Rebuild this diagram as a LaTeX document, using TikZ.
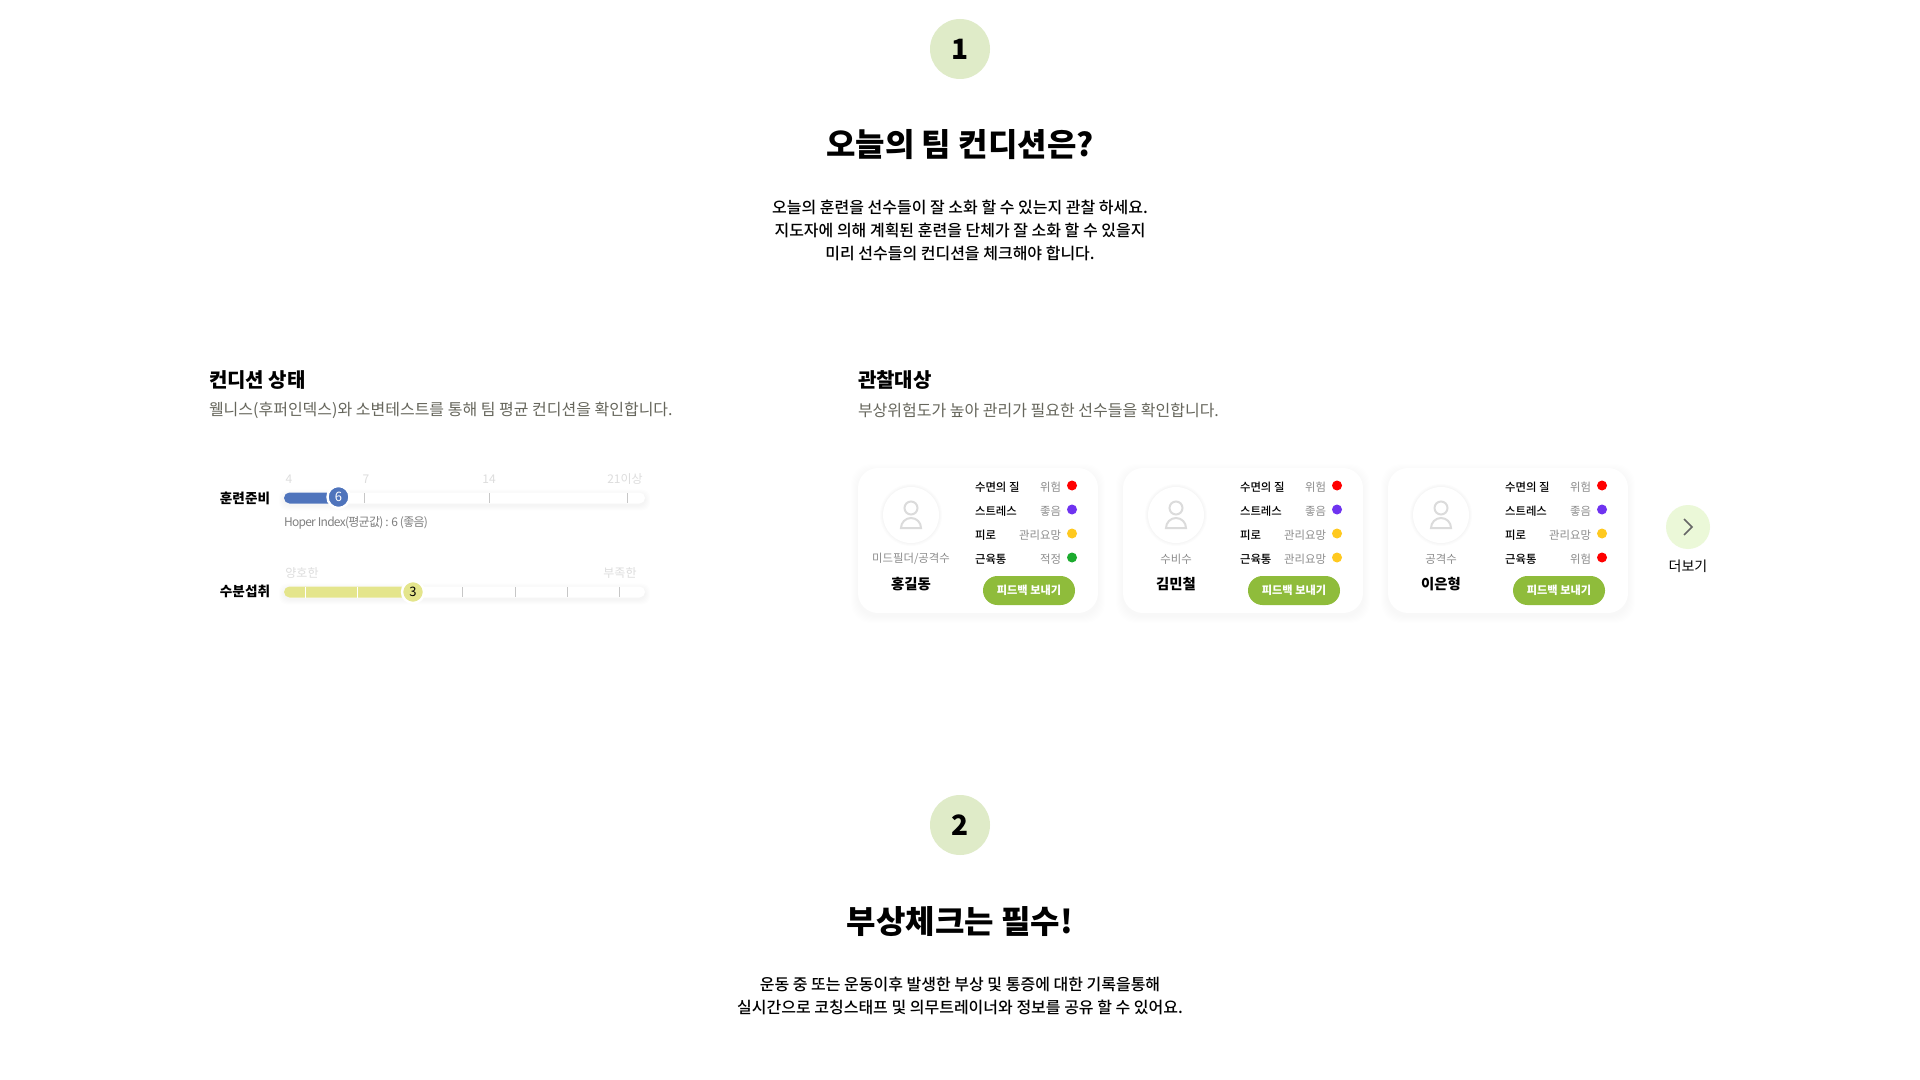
\documentclass[tikz,border=0pt]{standalone}
\usepackage{fontspec}
\setmainfont{Noto Sans CJK KR}
\newfontfamily\medfont{Noto Sans CJK KR Medium}
\usetikzlibrary{calc}
\definecolor{badgegreen}{HTML}{DFEBC8}
\definecolor{subgray}{HTML}{66665C}
\definecolor{scalegray}{HTML}{DDDDDD}
\definecolor{barblue}{HTML}{4F74BC}
\definecolor{baryellow}{HTML}{E4E58C}
\definecolor{btngreen}{HTML}{8FBC3B}
\definecolor{morebg}{HTML}{EBF8D8}
\definecolor{riskred}{HTML}{FF0000}
\definecolor{goodviolet}{HTML}{6F33F0}
\definecolor{careamber}{HTML}{FFC91F}
\definecolor{finegreen}{HTML}{1CAB2E}
\tikzset{
	txt/.style={inner sep=0pt,outer sep=0pt},
	badge/.style={circle,fill=badgegreen,minimum size=30pt,txt,font=\fontsize{14}{14}\selectfont\bfseries},
	headline/.style={txt,font=\fontsize{16}{16}\selectfont\bfseries},
	lead/.style={txt,font=\fontsize{8}{8}\medfont},
	sectitle/.style={txt,anchor=west,font=\fontsize{10}{10}\selectfont\bfseries},
	secsub/.style={txt,anchor=west,text=subgray,font=\fontsize{8}{8}\selectfont},
	barname/.style={txt,font=\fontsize{6.8}{7}\selectfont\bfseries},
	scalelab/.style={txt,text=scalegray,font=\fontsize{6}{6}\selectfont},
	knob/.style={circle,minimum size=11pt,txt,draw=white,line width=1.2pt,font=\fontsize{6.5}{6.5}\selectfont},
	track/.style={rounded corners=2.75pt,fill=white},
	rowlab/.style={txt,anchor=west,font=\fontsize{5.7}{6}\medfont},
	rowval/.style={txt,anchor=east,text=black!45,font=\fontsize{5.7}{6}\selectfont},
	dot/.style={circle,minimum size=5pt,txt},
	sendbtn/.style={rounded corners=7.25pt,fill=btngreen,minimum width=46pt,minimum height=14.5pt,txt,text=white,font=\fontsize{5.6}{6}\selectfont\bfseries},
}
\begin{document}
\begin{tikzpicture}[x=0.5pt,y=-0.5pt]
	\useasboundingbox (0,0) rectangle (1920,1080);
	\fill[white] (0,0) rectangle (1920,1080);
	% heading 1
	\node[badge] (badgeA) at (960,49) {\raisebox{-1pt}{1}};
	\node[headline] (titleA) at (960,145) {오늘의 팀 컨디션은?};
	\node[lead] (leadAa) at (960,207) {오늘의 훈련을 선수들이 잘 소화 할 수 있는지 관찰 하세요.};
	\node[lead] (leadAb) at (960,230) {지도자에 의해 계획된 훈련을 단체가 잘 소화 할 수 있을지};
	\node[lead] (leadAc) at (960,253) {미리 선수들의 컨디션을 체크해야 합니다.};
	% heading 2
	\node[badge] (badgeB) at (960,825) {\raisebox{-1pt}{2}};
	\node[headline] (titleB) at (960,922) {부상체크는 필수!};
	\node[lead] (leadBa) at (960,984) {운동 중 또는 운동이후 발생한 부상 및 통증에 대한 기록을통해};
	\node[lead] (leadBb) at (960,1007) {실시간으로 코칭스태프 및 의무트레이너와 정보를 공유 할 수 있어요.};
	% condition
	\node[sectitle] (condTitle) at (209,380) {컨디션 상태};
	\node[secsub] (condSub) at (209,410.5) {웰니스(후퍼인덱스)와 소변테스트를 통해 팀 평균 컨디션을 확인합니다.};
	\node[sectitle] (watchTitle) at (858,380) {관찰대상};
	\node[secsub] (watchSub) at (858,410.5) {부상위험도가 높아 관리가 필요한 선수들을 확인합니다.};
	% bars
	\foreach \yy in {498,592} {
		\foreach \r in {1,...,5}
			\fill[black,opacity=0.008,rounded corners=4pt] (284-\r,\yy-5.5-\r+2) rectangle (645+\r,\yy+5.5+\r+2);
		\fill[track] (284,\yy-5.5) rectangle (645,\yy+5.5);
	}
	\fill[barblue,rounded corners=2.75pt] (284,492.5) rectangle (340,503.5);
	\fill[baryellow,rounded corners=2.75pt] (284,586.5) rectangle (415,597.5);
	\foreach \xx in {364,489,627}
		\draw[black!22,line width=0.4pt] (\xx,493) -- (\xx,503);
	\foreach \xx in {462,515,567,619}
		\draw[black!22,line width=0.4pt] (\xx,587) -- (\xx,597);
	\foreach \xx in {305,357}
		\draw[white,line width=0.5pt] (\xx,586.5) -- (\xx,597.5);
	\node[barname] (barNameA) at (245,498.5) {훈련준비};
	\node[barname] (barNameB) at (245,591.5) {수분섭취};
	\node[knob,fill=barblue,text=white] (knobA) at (338.5,497) {6};
	\node[knob,fill=baryellow] (knobB) at (413,592) {3};
	\node[scalelab] (scaleA) at (289,479) {4};
	\node[scalelab] (scaleB) at (366,479) {7};
	\node[scalelab] (scaleC) at (489,479) {14};
	\node[scalelab] (scaleD) at (625,479) {21이상};
	\node[scalelab] (scaleE) at (302,573) {양호한};
	\node[scalelab] (scaleF) at (620,573) {부족한};
	\node[txt,anchor=west,text=black!50,font=\fontsize{6}{6}\selectfont\addfontfeatures{LetterSpace=-6}] (hoper) at (284,523) {Hoper Index(평균값) : 6 (좋음)};
	% cards
	\foreach \cx/\pos/\who/\sa/\ca/\sb/\cb/\sc/\cc/\sd/\cd/\n in {
		858/{미드필더/공격수}/홍길동/위험/riskred/좋음/goodviolet/관리요망/careamber/적정/finegreen/1,
		1123/수비수/김민철/위험/riskred/좋음/goodviolet/관리요망/careamber/관리요망/careamber/2,
		1388/공격수/이은형/위험/riskred/좋음/goodviolet/관리요망/careamber/위험/riskred/3} {
		\begin{scope}[shift={(\cx,468)}]
			\foreach \r in {1,...,7}
				\fill[black,opacity=0.004,rounded corners=10pt] (-\r,-\r+3) rectangle (240+\r,145+\r+3);
			\fill[white,rounded corners=10pt] (0,0) rectangle (240,145);
			\foreach \r in {1,...,3}
				\fill[black,opacity=0.012] (53,47) circle (28+\r);
			\node[circle,fill=white,minimum size=28pt,txt] (face\n) at (53,47) {};
			\draw[black!14,line width=1pt] (53,40) circle (6.5);
			\draw[black!14,line width=1pt] (43,60) arc (180:360:10 and 10) -- cycle;
			\node[txt,text=black!45,font=\fontsize{5.7}{6}\selectfont] (pos\n) at (53,91) {\pos};
			\node[txt,font=\fontsize{7.2}{7.5}\selectfont\bfseries] (name\n) at (53,116) {\who};
			\foreach \k/\yy/\lab/\st/\col in {1/19/수면의 질/\sa/\ca,2/43/스트레스/\sb/\cb,3/67/피로/\sc/\cc,4/91/근육통/\sd/\cd} {
				\node[rowlab] (lab\n\k) at (117,\yy) {\lab};
				\node[rowval] (val\n\k) at (203,\yy) {\st};
				\node[dot,fill=\col] (dot\n\k) at (214,\yy-1.5) {};
			}
			\node[sendbtn] (send\n) at (171,122.5) {\raisebox{-1pt}{피드백 보내기}};
		\end{scope}
	}
	% more
	\node[circle,fill=morebg,minimum size=22pt,txt] (more) at (1688,527) {};
	\draw[black!60,line width=0.8pt] (1684,519) -- (1692,527) -- (1684,535);
	\node[txt,font=\fontsize{7}{7}\selectfont] (moreLab) at (1688,566.5) {더보기};
\end{tikzpicture}
\end{document}
